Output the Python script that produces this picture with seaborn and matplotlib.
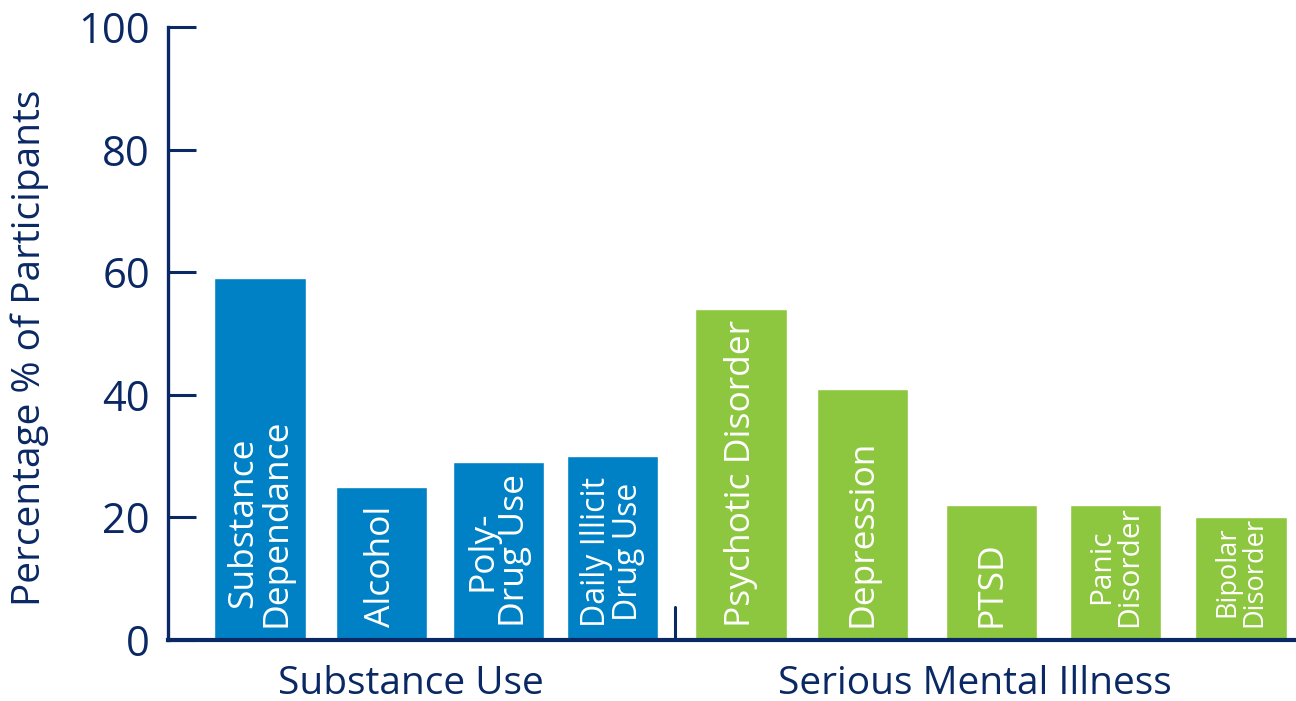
import matplotlib
matplotlib.use("Agg")
import matplotlib.pyplot as plt
import matplotlib.transforms as mtransforms
import seaborn as sns
import pandas as pd

# ---- data ----
categories = ["Substance\nDependance", "Alcohol", "Poly-\nDrug Use", "Daily Illicit\nDrug Use",
              "Psychotic Disorder", "Depression", "PTSD", "Panic\nDisorder", "Bipolar\nDisorder"]
values = [59, 25, 29, 30, 54, 41, 22, 22, 20]
groups = ["Substance Use"] * 4 + ["Serious Mental Illness"] * 5
group_names = ["Substance Use", "Serious Mental Illness"]
yticks = [0, 20, 40, 60, 80, 100]
y_label = "Percentage % of Participants"

# ---- layout / style ----
x_pos = [260, 381.5, 498.5, 612.5, 741, 862.5, 991.5, 1115.5, 1241]
label_sizes = [25.5, 25.5, 25.5, 23, 25.5, 25.5, 25.5, 21.5, 19.5]
group_label_x = [411, 975]
divider_x = 675
NAVY = "#0A2864"
BLUE = "#0081C6"
GREEN = "#8DC63F"

sns.set_style("white")
plt.rcParams["font.family"] = ["Open Sans", "DejaVu Sans"]

df = pd.DataFrame({"pos": x_pos, "value": values, "group": groups, "label": categories})

fig = plt.figure(figsize=(12.96, 7.01), dpi=100)
ax = fig.add_axes([168 / 1296, 61 / 701, 1128 / 1296, 613 / 701])

sns.barplot(data=df, x="pos", y="value", hue="group", hue_order=group_names,
            palette=[BLUE, GREEN], native_scale=True, width=0.8, dodge=False,
            saturation=1, legend=False, ax=ax)

ax.set_xlim(168, 1296)
ax.set_ylim(0, 100)
ax.set_xlabel("")
ax.set_ylabel("")
ax.set_xticks([])
ax.set_yticks(yticks)
ax.set_yticklabels([str(t) for t in yticks])
ax.tick_params(axis="y", left=True, direction="in", length=20, width=2.2, color=NAVY,
               labelcolor=NAVY, labelsize=30, pad=13)

for s in ["top", "right"]:
    ax.spines[s].set_visible(False)
ax.spines["left"].set_color(NAVY)
ax.spines["left"].set_linewidth(2.4)
ax.spines["left"].set_bounds(0, 100)
ax.spines["bottom"].set_color(NAVY)
ax.spines["bottom"].set_linewidth(3)
ax.spines["bottom"].set_zorder(5)

# bar labels inside bars
offset = mtransforms.offset_copy(ax.transData, fig=fig, x=0, y=13, units="dots")
for x, lab, fs in zip(df["pos"], df["label"], label_sizes):
    ax.text(x, 0, lab, rotation=90, ha="center", va="bottom", color="white",
            fontsize=fs, linespacing=0.95, transform=offset)

# divider between groups
ax.plot([divider_x, divider_x], [0, 5.4], color=NAVY, lw=2.2, solid_capstyle="round",
        clip_on=False)

# group labels
blend = mtransforms.blended_transform_factory(ax.transData, ax.transAxes)
for gx, gname in zip(group_label_x, group_names):
    ax.text(gx, -54 / 613, gname, ha="center", va="baseline", color=NAVY,
            fontsize=28, transform=blend)

fig.text(30 / 1296, 1 - 348 / 701, y_label, rotation=90, ha="center", va="center",
         color=NAVY, fontsize=28)

fig.savefig("out.png", dpi=100)
